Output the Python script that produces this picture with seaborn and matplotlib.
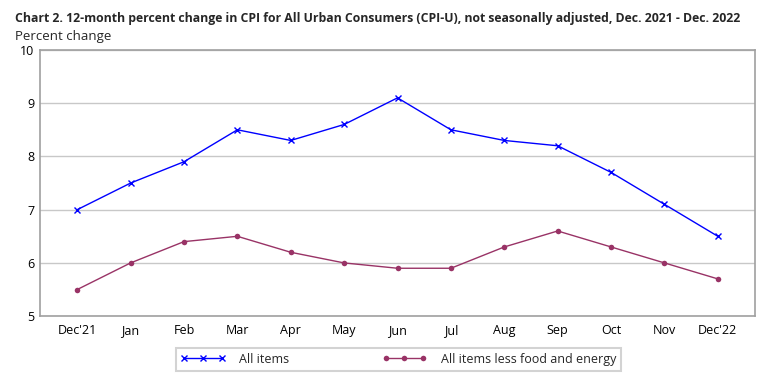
import matplotlib
matplotlib.use("Agg")
import matplotlib.pyplot as plt
import seaborn as sns
import pandas as pd

# CPI-U 12-month percent change, Dec 2021 - Dec 2022
months = ["Dec'21", "Jan", "Feb", "Mar", "Apr", "May", "Jun",
          "Jul", "Aug", "Sep", "Oct", "Nov", "Dec'22"]
all_items = [7.0, 7.5, 7.9, 8.5, 8.3, 8.6, 9.1, 8.5, 8.3, 8.2, 7.7, 7.1, 6.5]
core_items = [5.5, 6.0, 6.4, 6.5, 6.2, 6.0, 5.9, 5.9, 6.3, 6.6, 6.3, 6.0, 5.7]
y_ticks = [5, 6, 7, 8, 9, 10]

df = pd.DataFrame({"month": months, "pos": range(len(months)),
                   "all": all_items, "core": core_items})

sns.set_style("white")
plt.rcParams["font.family"] = ["Open Sans", "DejaVu Sans"]

fig = plt.figure(figsize=(7.81, 3.87), dpi=100)
ax = fig.add_axes([0.051, 0.183, 0.916, 0.688])

blue = "#0000ff"
plum = "#993366"
sns.lineplot(data=df, x="pos", y="all", ax=ax, color=blue, lw=1.0,
             marker="x", markersize=5, markeredgewidth=1.0,
             markeredgecolor=blue, label="All items")
sns.lineplot(data=df, x="pos", y="core", ax=ax, color=plum, lw=1.0,
             marker="o", markersize=4, markeredgewidth=0, markeredgecolor=plum,
             label="All items less food and energy")

ax.set_ylim(5, 10)
ax.set_yticks(y_ticks)
ax.set_xlim(-0.7, len(months) - 0.3)
ax.set_xticks(df["pos"])
ax.set_xticklabels(months)
ax.set_xlabel("")
ax.set_ylabel("")
ax.yaxis.grid(True, color="#c8c8c8", lw=1.0)
ax.set_axisbelow(True)
for s in ax.spines.values():
    s.set_color("#a0a0a0")
    s.set_linewidth(1.2)
ax.tick_params(axis="both", labelsize=9, colors="#000000", length=3,
               width=0.8, pad=4)
ax.tick_params(axis="x", color="#a0a0a0", pad=2.5)
ax.tick_params(axis="y", length=0)

fig.text(0.019, 0.953, "Chart 2. 12-month percent change in CPI for All Urban Consumers "
         "(CPI-U), not seasonally adjusted, Dec. 2021 - Dec. 2022",
         fontsize=8.85, fontweight="bold", ha="left", va="center")
fig.text(0.019, 0.905, "Percent change", fontsize=9.5, ha="left", va="center")

leg = ax.legend(loc="center", bbox_to_anchor=(0.51, 0.072),
                bbox_transform=fig.transFigure, ncol=2, numpoints=3,
                frameon=True, fancybox=False, fontsize=9, handlelength=3.6,
                borderpad=0.4, handletextpad=1.1, columnspacing=7.4,
                borderaxespad=0)
leg.get_frame().set_edgecolor("#c8c8c8")
leg.get_frame().set_linewidth(1.5)

fig.savefig("out.png", dpi=100)
